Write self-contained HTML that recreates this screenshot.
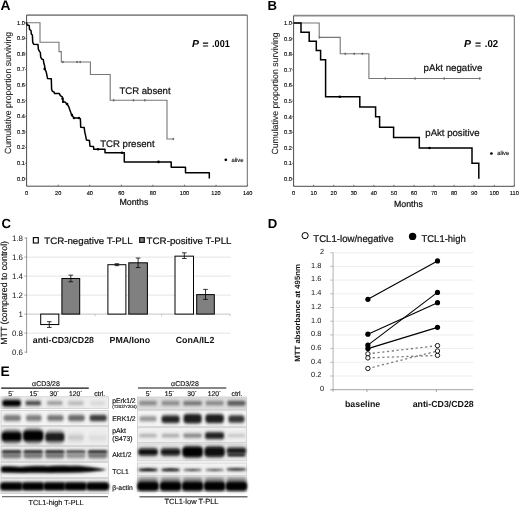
<!DOCTYPE html>
<html><head><meta charset="utf-8"><style>
html,body{margin:0;padding:0;background:#fff;}
svg{display:block;font-family:"Liberation Sans", sans-serif;will-change:transform;text-rendering:geometricPrecision;}
</style></head><body>
<svg width="520" height="515" viewBox="0 0 520 515">
<rect width="520" height="515" fill="#fff"/>
<text x="0.6" y="9.8" font-size="13.8" text-anchor="start" font-weight="bold" fill="#000" >A</text>
<text x="267.6" y="9.9" font-size="13.2" text-anchor="start" font-weight="bold" fill="#000" >B</text>
<text x="1.4" y="228.2" font-size="13.2" text-anchor="start" font-weight="bold" fill="#000" >C</text>
<text x="267.7" y="227.5" font-size="13.2" text-anchor="start" font-weight="bold" fill="#000" >D</text>
<text x="0.6" y="375.8" font-size="13.8" text-anchor="start" font-weight="bold" fill="#000" >E</text>
<line x1="26.6" y1="15.1" x2="247.3" y2="15.1" stroke="#8a8a8a" stroke-width="1.7"/>
<line x1="247.3" y1="15.1" x2="247.3" y2="186.2" stroke="#6a6a6a" stroke-width="1"/>
<line x1="26.6" y1="15.1" x2="26.6" y2="186.2" stroke="#4a4a4a" stroke-width="1"/>
<line x1="26.6" y1="186.2" x2="247.3" y2="186.2" stroke="#4a4a4a" stroke-width="1"/>
<line x1="25.1" y1="178.75" x2="26.6" y2="178.75" stroke="#555" stroke-width="0.8"/>
<text x="24.8" y="180.65" font-size="5.6" text-anchor="end" font-weight="normal" fill="#000" stroke="#000" stroke-width="0.12">0.0</text>
<line x1="25.1" y1="163.15" x2="26.6" y2="163.15" stroke="#555" stroke-width="0.8"/>
<text x="24.8" y="165.05" font-size="5.6" text-anchor="end" font-weight="normal" fill="#000" stroke="#000" stroke-width="0.12">0.1</text>
<line x1="25.1" y1="147.55" x2="26.6" y2="147.55" stroke="#555" stroke-width="0.8"/>
<text x="24.8" y="149.45000000000002" font-size="5.6" text-anchor="end" font-weight="normal" fill="#000" stroke="#000" stroke-width="0.12">0.2</text>
<line x1="25.1" y1="131.95" x2="26.6" y2="131.95" stroke="#555" stroke-width="0.8"/>
<text x="24.8" y="133.85" font-size="5.6" text-anchor="end" font-weight="normal" fill="#000" stroke="#000" stroke-width="0.12">0.3</text>
<line x1="25.1" y1="116.35" x2="26.6" y2="116.35" stroke="#555" stroke-width="0.8"/>
<text x="24.8" y="118.25" font-size="5.6" text-anchor="end" font-weight="normal" fill="#000" stroke="#000" stroke-width="0.12">0.4</text>
<line x1="25.1" y1="100.75" x2="26.6" y2="100.75" stroke="#555" stroke-width="0.8"/>
<text x="24.8" y="102.65" font-size="5.6" text-anchor="end" font-weight="normal" fill="#000" stroke="#000" stroke-width="0.12">0.5</text>
<line x1="25.1" y1="85.15" x2="26.6" y2="85.15" stroke="#555" stroke-width="0.8"/>
<text x="24.8" y="87.05000000000001" font-size="5.6" text-anchor="end" font-weight="normal" fill="#000" stroke="#000" stroke-width="0.12">0.6</text>
<line x1="25.1" y1="69.55000000000001" x2="26.6" y2="69.55000000000001" stroke="#555" stroke-width="0.8"/>
<text x="24.8" y="71.45000000000002" font-size="5.6" text-anchor="end" font-weight="normal" fill="#000" stroke="#000" stroke-width="0.12">0.7</text>
<line x1="25.1" y1="53.94999999999999" x2="26.6" y2="53.94999999999999" stroke="#555" stroke-width="0.8"/>
<text x="24.8" y="55.84999999999999" font-size="5.6" text-anchor="end" font-weight="normal" fill="#000" stroke="#000" stroke-width="0.12">0.8</text>
<line x1="25.1" y1="38.349999999999994" x2="26.6" y2="38.349999999999994" stroke="#555" stroke-width="0.8"/>
<text x="24.8" y="40.24999999999999" font-size="5.6" text-anchor="end" font-weight="normal" fill="#000" stroke="#000" stroke-width="0.12">0.9</text>
<line x1="25.1" y1="22.75" x2="26.6" y2="22.75" stroke="#555" stroke-width="0.8"/>
<text x="24.8" y="24.65" font-size="5.6" text-anchor="end" font-weight="normal" fill="#000" stroke="#000" stroke-width="0.12">1.0</text>
<line x1="26.6" y1="184.7" x2="26.6" y2="186.2" stroke="#555" stroke-width="0.8"/>
<text x="26.6" y="195.4" font-size="5.6" text-anchor="middle" font-weight="normal" fill="#000" stroke="#000" stroke-width="0.12">0</text>
<line x1="58.172" y1="184.7" x2="58.172" y2="186.2" stroke="#555" stroke-width="0.8"/>
<text x="58.172" y="195.4" font-size="5.6" text-anchor="middle" font-weight="normal" fill="#000" stroke="#000" stroke-width="0.12">20</text>
<line x1="89.744" y1="184.7" x2="89.744" y2="186.2" stroke="#555" stroke-width="0.8"/>
<text x="89.744" y="195.4" font-size="5.6" text-anchor="middle" font-weight="normal" fill="#000" stroke="#000" stroke-width="0.12">40</text>
<line x1="121.316" y1="184.7" x2="121.316" y2="186.2" stroke="#555" stroke-width="0.8"/>
<text x="121.316" y="195.4" font-size="5.6" text-anchor="middle" font-weight="normal" fill="#000" stroke="#000" stroke-width="0.12">60</text>
<line x1="152.888" y1="184.7" x2="152.888" y2="186.2" stroke="#555" stroke-width="0.8"/>
<text x="152.888" y="195.4" font-size="5.6" text-anchor="middle" font-weight="normal" fill="#000" stroke="#000" stroke-width="0.12">80</text>
<line x1="184.46" y1="184.7" x2="184.46" y2="186.2" stroke="#555" stroke-width="0.8"/>
<text x="184.46" y="195.4" font-size="5.6" text-anchor="middle" font-weight="normal" fill="#000" stroke="#000" stroke-width="0.12">100</text>
<line x1="216.03199999999998" y1="184.7" x2="216.03199999999998" y2="186.2" stroke="#555" stroke-width="0.8"/>
<text x="216.03199999999998" y="195.4" font-size="5.6" text-anchor="middle" font-weight="normal" fill="#000" stroke="#000" stroke-width="0.12">120</text>
<line x1="247.60399999999998" y1="184.7" x2="247.60399999999998" y2="186.2" stroke="#555" stroke-width="0.8"/>
<text x="247.60399999999998" y="195.4" font-size="5.6" text-anchor="middle" font-weight="normal" fill="#000" stroke="#000" stroke-width="0.12">140</text>
<text x="10.9" y="93.0" font-size="8.9" text-anchor="middle" fill="#1a1a1a" stroke="#1a1a1a" stroke-width="0.1" textLength="122.2" lengthAdjust="spacingAndGlyphs" transform="rotate(-90 10.9 93.0)">Cumulative proportion surviving</text>
<path d="M26.60,22.70 L40.00,22.70 L40.00,42.30 L59.00,42.30 L59.00,51.60 L61.30,51.60 L61.30,62.00 L90.40,62.00 L90.40,74.50 L110.20,74.50 L110.20,100.30 L167.00,100.30 L167.00,139.00 L173.30,139.00" fill="none" stroke="#777777" stroke-width="1.1"/>
<line x1="62.9" y1="60.8" x2="62.9" y2="63.2" stroke="#8a8a8a" stroke-width="0.8"/>
<circle cx="62.9" cy="62" r="0.95" fill="#6a6a6a"/>
<line x1="77.1" y1="60.8" x2="77.1" y2="63.2" stroke="#8a8a8a" stroke-width="0.8"/>
<circle cx="77.1" cy="62" r="0.95" fill="#6a6a6a"/>
<line x1="80.2" y1="60.8" x2="80.2" y2="63.2" stroke="#8a8a8a" stroke-width="0.8"/>
<circle cx="80.2" cy="62" r="0.95" fill="#6a6a6a"/>
<line x1="113.7" y1="99.1" x2="113.7" y2="101.5" stroke="#8a8a8a" stroke-width="0.8"/>
<circle cx="113.7" cy="100.3" r="0.95" fill="#6a6a6a"/>
<line x1="133.5" y1="99.1" x2="133.5" y2="101.5" stroke="#8a8a8a" stroke-width="0.8"/>
<circle cx="133.5" cy="100.3" r="0.95" fill="#6a6a6a"/>
<line x1="144.8" y1="99.1" x2="144.8" y2="101.5" stroke="#8a8a8a" stroke-width="0.8"/>
<circle cx="144.8" cy="100.3" r="0.95" fill="#6a6a6a"/>
<line x1="173.3" y1="137.8" x2="173.3" y2="140.2" stroke="#8a8a8a" stroke-width="0.8"/>
<circle cx="173.3" cy="139" r="0.95" fill="#6a6a6a"/>
<path d="M26.40,22.60 L27.20,25.00 L29.20,25.50 L29.50,29.30 L31.00,30.50 L31.30,34.00 L32.40,35.10 L32.70,42.10 L33.60,44.20 L38.00,44.50 L38.30,48.50 L38.30,49.10 L39.50,51.40 L40.40,52.60 L40.70,57.20 L41.80,59.00 L43.30,59.60 L43.90,63.60 L44.70,66.00 L44.70,68.90 L45.90,71.20 L46.30,72.30 L46.90,75.20 L47.50,78.40 L51.30,78.70 L51.60,89.20 L52.40,91.30 L54.20,92.10 L54.50,93.60 L59.40,93.60 L60.30,95.60 L62.30,96.80 L62.60,98.80 L63.20,101.70 L65.00,102.00 L67.00,104.00 L68.70,106.60 L69.60,109.30 L70.80,112.50 L71.90,115.10 L74.00,118.00 L78.90,118.00 L80.40,118.90 L80.70,127.30 L84.20,127.60 L84.70,131.60 L85.60,135.70 L86.50,140.10 L89.40,140.40 L90.00,146.20 L93.50,146.50 L93.80,149.30 L105.00,149.30 L105.00,152.70 L124.30,152.70 L124.30,161.90 L171.20,161.90 L171.20,167.20 L185.50,167.20 L185.50,172.80 L209.30,172.80 L209.30,178.40" fill="none" stroke="#000" stroke-width="1.5" stroke-linejoin="round"/>
<circle cx="44.7" cy="68.9" r="1.3" fill="#000"/>
<circle cx="62.6" cy="98.8" r="1.3" fill="#000"/>
<circle cx="63.2" cy="101.7" r="1.3" fill="#000"/>
<circle cx="67" cy="104" r="1.3" fill="#000"/>
<circle cx="71.9" cy="115.1" r="1.3" fill="#000"/>
<circle cx="74" cy="118" r="1.3" fill="#000"/>
<circle cx="78.9" cy="118" r="1.3" fill="#000"/>
<circle cx="98" cy="149.3" r="1.3" fill="#000"/>
<circle cx="122" cy="152.7" r="1.3" fill="#000"/>
<circle cx="158.5" cy="161.9" r="1.3" fill="#000"/>
<text x="191.9" y="47.2" font-size="10.2" text-anchor="start" font-weight="bold" fill="#000" textLength="7.0" lengthAdjust="spacingAndGlyphs"><tspan font-style="italic">P</tspan></text>
<text x="202.4" y="48.0" font-size="10.4" text-anchor="start" font-weight="bold" fill="#000" >=</text>
<text x="212.1" y="47.2" font-size="10" text-anchor="start" font-weight="bold" fill="#000" textLength="17.6" lengthAdjust="spacingAndGlyphs">.001</text>
<text x="119.4" y="93.8" font-size="9.6" text-anchor="start" font-weight="normal" fill="#111" stroke="#111" stroke-width="0.22">TCR absent</text>
<text x="100.2" y="146.5" font-size="9.6" text-anchor="start" font-weight="normal" fill="#111" stroke="#111" stroke-width="0.22">TCR present</text>
<circle cx="225.8" cy="159.8" r="1.35" fill="#000"/>
<text x="231.5" y="161.5" font-size="5.8" text-anchor="start" font-weight="normal" fill="#111" stroke="#111" stroke-width="0.15">alive</text>
<text x="119.5" y="204.7" font-size="8.8" text-anchor="start" font-weight="normal" fill="#111" stroke="#111" stroke-width="0.22">Months</text>
<line x1="293.6" y1="15.6" x2="514.3" y2="15.6" stroke="#8a8a8a" stroke-width="1.7"/>
<line x1="514.3" y1="15.6" x2="514.3" y2="186.3" stroke="#6a6a6a" stroke-width="1"/>
<line x1="293.6" y1="15.6" x2="293.6" y2="186.3" stroke="#4a4a4a" stroke-width="1"/>
<line x1="293.6" y1="186.3" x2="514.3" y2="186.3" stroke="#4a4a4a" stroke-width="1"/>
<line x1="292.1" y1="179.0" x2="293.6" y2="179.0" stroke="#555" stroke-width="0.8"/>
<text x="291.8" y="180.9" font-size="5.6" text-anchor="end" font-weight="normal" fill="#000" stroke="#000" stroke-width="0.12">0.0</text>
<line x1="292.1" y1="163.42" x2="293.6" y2="163.42" stroke="#555" stroke-width="0.8"/>
<text x="291.8" y="165.32" font-size="5.6" text-anchor="end" font-weight="normal" fill="#000" stroke="#000" stroke-width="0.12">0.1</text>
<line x1="292.1" y1="147.84" x2="293.6" y2="147.84" stroke="#555" stroke-width="0.8"/>
<text x="291.8" y="149.74" font-size="5.6" text-anchor="end" font-weight="normal" fill="#000" stroke="#000" stroke-width="0.12">0.2</text>
<line x1="292.1" y1="132.26" x2="293.6" y2="132.26" stroke="#555" stroke-width="0.8"/>
<text x="291.8" y="134.16" font-size="5.6" text-anchor="end" font-weight="normal" fill="#000" stroke="#000" stroke-width="0.12">0.3</text>
<line x1="292.1" y1="116.67999999999999" x2="293.6" y2="116.67999999999999" stroke="#555" stroke-width="0.8"/>
<text x="291.8" y="118.58" font-size="5.6" text-anchor="end" font-weight="normal" fill="#000" stroke="#000" stroke-width="0.12">0.4</text>
<line x1="292.1" y1="101.1" x2="293.6" y2="101.1" stroke="#555" stroke-width="0.8"/>
<text x="291.8" y="103.0" font-size="5.6" text-anchor="end" font-weight="normal" fill="#000" stroke="#000" stroke-width="0.12">0.5</text>
<line x1="292.1" y1="85.52" x2="293.6" y2="85.52" stroke="#555" stroke-width="0.8"/>
<text x="291.8" y="87.42" font-size="5.6" text-anchor="end" font-weight="normal" fill="#000" stroke="#000" stroke-width="0.12">0.6</text>
<line x1="292.1" y1="69.94" x2="293.6" y2="69.94" stroke="#555" stroke-width="0.8"/>
<text x="291.8" y="71.84" font-size="5.6" text-anchor="end" font-weight="normal" fill="#000" stroke="#000" stroke-width="0.12">0.7</text>
<line x1="292.1" y1="54.359999999999985" x2="293.6" y2="54.359999999999985" stroke="#555" stroke-width="0.8"/>
<text x="291.8" y="56.259999999999984" font-size="5.6" text-anchor="end" font-weight="normal" fill="#000" stroke="#000" stroke-width="0.12">0.8</text>
<line x1="292.1" y1="38.77999999999997" x2="293.6" y2="38.77999999999997" stroke="#555" stroke-width="0.8"/>
<text x="291.8" y="40.67999999999997" font-size="5.6" text-anchor="end" font-weight="normal" fill="#000" stroke="#000" stroke-width="0.12">0.9</text>
<line x1="292.1" y1="23.19999999999999" x2="293.6" y2="23.19999999999999" stroke="#555" stroke-width="0.8"/>
<text x="291.8" y="25.099999999999987" font-size="5.6" text-anchor="end" font-weight="normal" fill="#000" stroke="#000" stroke-width="0.12">1.0</text>
<line x1="293.6" y1="184.8" x2="293.6" y2="186.3" stroke="#555" stroke-width="0.8"/>
<text x="293.6" y="195.4" font-size="5.6" text-anchor="middle" font-weight="normal" fill="#000" stroke="#000" stroke-width="0.12">0</text>
<line x1="313.66400000000004" y1="184.8" x2="313.66400000000004" y2="186.3" stroke="#555" stroke-width="0.8"/>
<text x="313.66400000000004" y="195.4" font-size="5.6" text-anchor="middle" font-weight="normal" fill="#000" stroke="#000" stroke-width="0.12">10</text>
<line x1="333.728" y1="184.8" x2="333.728" y2="186.3" stroke="#555" stroke-width="0.8"/>
<text x="333.728" y="195.4" font-size="5.6" text-anchor="middle" font-weight="normal" fill="#000" stroke="#000" stroke-width="0.12">20</text>
<line x1="353.79200000000003" y1="184.8" x2="353.79200000000003" y2="186.3" stroke="#555" stroke-width="0.8"/>
<text x="353.79200000000003" y="195.4" font-size="5.6" text-anchor="middle" font-weight="normal" fill="#000" stroke="#000" stroke-width="0.12">30</text>
<line x1="373.856" y1="184.8" x2="373.856" y2="186.3" stroke="#555" stroke-width="0.8"/>
<text x="373.856" y="195.4" font-size="5.6" text-anchor="middle" font-weight="normal" fill="#000" stroke="#000" stroke-width="0.12">40</text>
<line x1="393.92" y1="184.8" x2="393.92" y2="186.3" stroke="#555" stroke-width="0.8"/>
<text x="393.92" y="195.4" font-size="5.6" text-anchor="middle" font-weight="normal" fill="#000" stroke="#000" stroke-width="0.12">50</text>
<line x1="413.98400000000004" y1="184.8" x2="413.98400000000004" y2="186.3" stroke="#555" stroke-width="0.8"/>
<text x="413.98400000000004" y="195.4" font-size="5.6" text-anchor="middle" font-weight="normal" fill="#000" stroke="#000" stroke-width="0.12">60</text>
<line x1="434.048" y1="184.8" x2="434.048" y2="186.3" stroke="#555" stroke-width="0.8"/>
<text x="434.048" y="195.4" font-size="5.6" text-anchor="middle" font-weight="normal" fill="#000" stroke="#000" stroke-width="0.12">70</text>
<line x1="454.112" y1="184.8" x2="454.112" y2="186.3" stroke="#555" stroke-width="0.8"/>
<text x="454.112" y="195.4" font-size="5.6" text-anchor="middle" font-weight="normal" fill="#000" stroke="#000" stroke-width="0.12">80</text>
<line x1="474.17600000000004" y1="184.8" x2="474.17600000000004" y2="186.3" stroke="#555" stroke-width="0.8"/>
<text x="474.17600000000004" y="195.4" font-size="5.6" text-anchor="middle" font-weight="normal" fill="#000" stroke="#000" stroke-width="0.12">90</text>
<line x1="494.24" y1="184.8" x2="494.24" y2="186.3" stroke="#555" stroke-width="0.8"/>
<text x="494.24" y="195.4" font-size="5.6" text-anchor="middle" font-weight="normal" fill="#000" stroke="#000" stroke-width="0.12">100</text>
<line x1="514.3040000000001" y1="184.8" x2="514.3040000000001" y2="186.3" stroke="#555" stroke-width="0.8"/>
<text x="514.3040000000001" y="195.4" font-size="5.6" text-anchor="middle" font-weight="normal" fill="#000" stroke="#000" stroke-width="0.12">110</text>
<text x="278.1" y="93.5" font-size="8.9" text-anchor="middle" fill="#1a1a1a" stroke="#1a1a1a" stroke-width="0.1" textLength="122.2" lengthAdjust="spacingAndGlyphs" transform="rotate(-90 278.1 93.5)">Cumulative proportion surviving</text>
<path d="M293.60,23.00 L319.20,23.00 L319.20,37.40 L340.20,37.40 L340.20,53.70 L368.90,53.70 L368.90,78.50 L479.70,78.50" fill="none" stroke="#777777" stroke-width="1.1"/>
<line x1="319.5" y1="36.199999999999996" x2="319.5" y2="38.6" stroke="#8a8a8a" stroke-width="0.8"/>
<circle cx="319.5" cy="37.4" r="0.95" fill="#6a6a6a"/>
<line x1="345.3" y1="52.5" x2="345.3" y2="54.900000000000006" stroke="#8a8a8a" stroke-width="0.8"/>
<circle cx="345.3" cy="53.7" r="0.95" fill="#6a6a6a"/>
<line x1="354.2" y1="52.5" x2="354.2" y2="54.900000000000006" stroke="#8a8a8a" stroke-width="0.8"/>
<circle cx="354.2" cy="53.7" r="0.95" fill="#6a6a6a"/>
<line x1="362.3" y1="52.5" x2="362.3" y2="54.900000000000006" stroke="#8a8a8a" stroke-width="0.8"/>
<circle cx="362.3" cy="53.7" r="0.95" fill="#6a6a6a"/>
<line x1="385.3" y1="77.3" x2="385.3" y2="79.7" stroke="#8a8a8a" stroke-width="0.8"/>
<circle cx="385.3" cy="78.5" r="0.95" fill="#6a6a6a"/>
<line x1="415.1" y1="77.3" x2="415.1" y2="79.7" stroke="#8a8a8a" stroke-width="0.8"/>
<circle cx="415.1" cy="78.5" r="0.95" fill="#6a6a6a"/>
<line x1="444.2" y1="77.3" x2="444.2" y2="79.7" stroke="#8a8a8a" stroke-width="0.8"/>
<circle cx="444.2" cy="78.5" r="0.95" fill="#6a6a6a"/>
<line x1="479.7" y1="77.3" x2="479.7" y2="79.7" stroke="#8a8a8a" stroke-width="0.8"/>
<circle cx="479.7" cy="78.5" r="0.95" fill="#6a6a6a"/>
<path d="M293.60,23.00 L301.00,23.00 L301.00,32.30 L309.20,32.30 L309.20,41.20 L316.30,41.20 L316.30,50.60 L320.60,50.60 L320.60,59.70 L325.60,59.70 L325.60,96.70 L359.80,96.70 L359.80,106.90 L375.60,106.90 L375.60,116.80 L379.60,116.80 L379.60,127.20 L393.60,127.20 L393.60,137.60 L419.30,137.60 L419.30,148.00 L472.00,148.00 L472.00,163.30 L478.80,163.30 L478.80,178.80" fill="none" stroke="#000" stroke-width="1.5"/>
<circle cx="339.7" cy="96.7" r="1.3" fill="#000"/>
<circle cx="429.5" cy="148.0" r="1.3" fill="#000"/>
<text x="464.1" y="47.1" font-size="10.2" text-anchor="start" font-weight="bold" fill="#000" textLength="7.0" lengthAdjust="spacingAndGlyphs"><tspan font-style="italic">P</tspan></text>
<text x="475.1" y="47.9" font-size="10.4" text-anchor="start" font-weight="bold" fill="#000" >=</text>
<text x="484.8" y="47.1" font-size="10" text-anchor="start" font-weight="bold" fill="#000" textLength="13.4" lengthAdjust="spacingAndGlyphs">.02</text>
<text x="423.6" y="71.1" font-size="9.7" text-anchor="start" font-weight="normal" fill="#111" stroke="#111" stroke-width="0.22">pAkt negative</text>
<text x="425.3" y="135.5" font-size="9.6" text-anchor="start" font-weight="normal" fill="#111" stroke="#111" stroke-width="0.22">pAkt positive</text>
<circle cx="491.4" cy="153.5" r="1.35" fill="#000"/>
<text x="497.2" y="155.2" font-size="5.8" text-anchor="start" font-weight="normal" fill="#111" stroke="#111" stroke-width="0.15">alive</text>
<text x="394.0" y="206.5" font-size="8.8" text-anchor="start" font-weight="normal" fill="#111" stroke="#111" stroke-width="0.22">Months</text>
<line x1="26.6" y1="257.10" x2="230.5" y2="257.10" stroke="#d8d8d8" stroke-width="0.7"/>
<line x1="26.6" y1="276.10" x2="230.5" y2="276.10" stroke="#d8d8d8" stroke-width="0.7"/>
<line x1="26.6" y1="295.10" x2="230.5" y2="295.10" stroke="#d8d8d8" stroke-width="0.7"/>
<line x1="26.6" y1="333.10" x2="230.5" y2="333.10" stroke="#d8d8d8" stroke-width="0.7"/>
<line x1="26.6" y1="314.10" x2="230.5" y2="314.10" stroke="#bdbdbd" stroke-width="0.9"/>
<line x1="26.6" y1="237.10000000000002" x2="26.6" y2="353.1" stroke="#8c8c8c" stroke-width="0.9"/>
<line x1="24.4" y1="238.10" x2="26.6" y2="238.10" stroke="#8c8c8c" stroke-width="0.8"/>
<text x="23.0" y="240.90000000000003" font-size="7.9" text-anchor="end" font-weight="normal" fill="#111" >1.8</text>
<line x1="24.4" y1="257.10" x2="26.6" y2="257.10" stroke="#8c8c8c" stroke-width="0.8"/>
<text x="23.0" y="259.90000000000003" font-size="7.9" text-anchor="end" font-weight="normal" fill="#111" >1.6</text>
<line x1="24.4" y1="276.10" x2="26.6" y2="276.10" stroke="#8c8c8c" stroke-width="0.8"/>
<text x="23.0" y="278.90000000000003" font-size="7.9" text-anchor="end" font-weight="normal" fill="#111" >1.4</text>
<line x1="24.4" y1="295.10" x2="26.6" y2="295.10" stroke="#8c8c8c" stroke-width="0.8"/>
<text x="23.0" y="297.90000000000003" font-size="7.9" text-anchor="end" font-weight="normal" fill="#111" >1.2</text>
<line x1="24.4" y1="314.10" x2="26.6" y2="314.10" stroke="#8c8c8c" stroke-width="0.8"/>
<text x="23.0" y="316.90000000000003" font-size="7.9" text-anchor="end" font-weight="normal" fill="#111" >1</text>
<line x1="24.4" y1="333.10" x2="26.6" y2="333.10" stroke="#8c8c8c" stroke-width="0.8"/>
<text x="23.0" y="335.90000000000003" font-size="7.9" text-anchor="end" font-weight="normal" fill="#111" >0.8</text>
<line x1="24.4" y1="352.10" x2="26.6" y2="352.10" stroke="#8c8c8c" stroke-width="0.8"/>
<text x="23.0" y="354.90000000000003" font-size="7.9" text-anchor="end" font-weight="normal" fill="#111" >0.6</text>
<line x1="95.0" y1="314.1" x2="95.0" y2="316.3" stroke="#bdbdbd" stroke-width="0.8"/>
<line x1="161.6" y1="314.1" x2="161.6" y2="316.3" stroke="#bdbdbd" stroke-width="0.8"/>
<line x1="230.0" y1="314.1" x2="230.0" y2="316.3" stroke="#bdbdbd" stroke-width="0.8"/>
<rect x="40.70" y="314.10" width="18.10" height="10.45" fill="#fff" stroke="#000" stroke-width="1"/>
<line x1="49.3" y1="327.40" x2="49.3" y2="321.70" stroke="#000" stroke-width="0.8"/>
<line x1="47.0" y1="327.40" x2="51.599999999999994" y2="327.40" stroke="#000" stroke-width="0.8"/>
<line x1="47.0" y1="321.70" x2="51.599999999999994" y2="321.70" stroke="#000" stroke-width="0.8"/>
<rect x="61.90" y="278.48" width="17.80" height="35.62" fill="#808080" stroke="#000" stroke-width="1"/>
<line x1="70.8" y1="281.80" x2="70.8" y2="275.15" stroke="#000" stroke-width="0.8"/>
<line x1="68.5" y1="281.80" x2="73.1" y2="281.80" stroke="#000" stroke-width="0.8"/>
<line x1="68.5" y1="275.15" x2="73.1" y2="275.15" stroke="#000" stroke-width="0.8"/>
<rect x="107.90" y="264.70" width="18.00" height="49.40" fill="#fff" stroke="#000" stroke-width="1"/>
<line x1="116.9" y1="265.65" x2="116.9" y2="263.75" stroke="#000" stroke-width="0.8"/>
<line x1="114.60000000000001" y1="265.65" x2="119.2" y2="265.65" stroke="#000" stroke-width="0.8"/>
<line x1="114.60000000000001" y1="263.75" x2="119.2" y2="263.75" stroke="#000" stroke-width="0.8"/>
<rect x="128.80" y="262.80" width="18.60" height="51.30" fill="#808080" stroke="#000" stroke-width="1"/>
<line x1="138.1" y1="267.55" x2="138.1" y2="258.05" stroke="#000" stroke-width="0.8"/>
<line x1="135.79999999999998" y1="267.55" x2="140.4" y2="267.55" stroke="#000" stroke-width="0.8"/>
<line x1="135.79999999999998" y1="258.05" x2="140.4" y2="258.05" stroke="#000" stroke-width="0.8"/>
<rect x="175.00" y="256.15" width="18.50" height="57.95" fill="#fff" stroke="#000" stroke-width="1"/>
<line x1="184.3" y1="258.53" x2="184.3" y2="252.83" stroke="#000" stroke-width="0.8"/>
<line x1="182.0" y1="258.53" x2="186.60000000000002" y2="258.53" stroke="#000" stroke-width="0.8"/>
<line x1="182.0" y1="252.83" x2="186.60000000000002" y2="252.83" stroke="#000" stroke-width="0.8"/>
<rect x="196.70" y="294.62" width="17.60" height="19.48" fill="#808080" stroke="#000" stroke-width="1"/>
<line x1="205.5" y1="299.38" x2="205.5" y2="289.40" stroke="#000" stroke-width="0.8"/>
<line x1="203.2" y1="299.38" x2="207.8" y2="299.38" stroke="#000" stroke-width="0.8"/>
<line x1="203.2" y1="289.40" x2="207.8" y2="289.40" stroke="#000" stroke-width="0.8"/>
<rect x="33.4" y="237.6" width="4.9" height="5.4" fill="#fff" stroke="#111" stroke-width="1.2"/>
<text x="44.3" y="243.8" font-size="9.3" text-anchor="start" font-weight="normal" fill="#111" textLength="88.3" lengthAdjust="spacingAndGlyphs" stroke="#111" stroke-width="0.22">TCR-negative T-PLL</text>
<rect x="139.7" y="237.6" width="4.6" height="4.8" fill="#808080" stroke="#111" stroke-width="1.2"/>
<text x="146.6" y="243.8" font-size="9.3" text-anchor="start" font-weight="normal" fill="#111" textLength="84.9" lengthAdjust="spacingAndGlyphs" stroke="#111" stroke-width="0.22">TCR-positive T-PLL</text>
<text x="63.4" y="343.0" font-size="8.8" text-anchor="middle" font-weight="bold" fill="#111" >anti-CD3/CD28</text>
<text x="129.8" y="343.0" font-size="8.8" text-anchor="middle" font-weight="bold" fill="#111" >PMA/Iono</text>
<text x="195.0" y="343.0" font-size="8.8" text-anchor="middle" font-weight="bold" fill="#111" >ConA/IL2</text>
<text x="6.7" y="292.9" font-size="8.9" text-anchor="middle" fill="#111" stroke="#111" stroke-width="0.15" textLength="103.8" lengthAdjust="spacingAndGlyphs" transform="rotate(-90 6.7 292.9)">MTT (compared to control)</text>
<line x1="333.4" y1="376.00" x2="473.4" y2="376.00" stroke="#e8e8e8" stroke-width="0.8"/>
<line x1="333.4" y1="362.30" x2="473.4" y2="362.30" stroke="#e8e8e8" stroke-width="0.8"/>
<line x1="333.4" y1="348.60" x2="473.4" y2="348.60" stroke="#e8e8e8" stroke-width="0.8"/>
<line x1="333.4" y1="334.90" x2="473.4" y2="334.90" stroke="#e8e8e8" stroke-width="0.8"/>
<line x1="333.4" y1="321.20" x2="473.4" y2="321.20" stroke="#e8e8e8" stroke-width="0.8"/>
<line x1="333.4" y1="307.50" x2="473.4" y2="307.50" stroke="#e8e8e8" stroke-width="0.8"/>
<line x1="333.4" y1="293.80" x2="473.4" y2="293.80" stroke="#e8e8e8" stroke-width="0.8"/>
<line x1="333.4" y1="280.10" x2="473.4" y2="280.10" stroke="#e8e8e8" stroke-width="0.8"/>
<line x1="333.4" y1="266.40" x2="473.4" y2="266.40" stroke="#e8e8e8" stroke-width="0.8"/>
<line x1="333.4" y1="252.70" x2="473.4" y2="252.70" stroke="#e8e8e8" stroke-width="0.8"/>
<line x1="333.1" y1="252.7" x2="333.1" y2="391.9" stroke="#a8a8a8" stroke-width="0.9"/>
<line x1="330.5" y1="389.7" x2="473.4" y2="389.7" stroke="#9a9a9a" stroke-width="0.9"/>
<line x1="330.4" y1="389.70" x2="333.1" y2="389.70" stroke="#a8a8a8" stroke-width="0.8"/>
<text x="324.2" y="391.0" font-size="7.4" text-anchor="end" font-weight="normal" fill="#111" >0</text>
<line x1="330.4" y1="376.00" x2="333.1" y2="376.00" stroke="#a8a8a8" stroke-width="0.8"/>
<text x="321.4" y="377.3" font-size="7.4" text-anchor="end" font-weight="normal" fill="#111" >0.2</text>
<line x1="330.4" y1="362.30" x2="333.1" y2="362.30" stroke="#a8a8a8" stroke-width="0.8"/>
<text x="321.4" y="363.6" font-size="7.4" text-anchor="end" font-weight="normal" fill="#111" >0.4</text>
<line x1="330.4" y1="348.60" x2="333.1" y2="348.60" stroke="#a8a8a8" stroke-width="0.8"/>
<text x="321.4" y="349.9" font-size="7.4" text-anchor="end" font-weight="normal" fill="#111" >0.6</text>
<line x1="330.4" y1="334.90" x2="333.1" y2="334.90" stroke="#a8a8a8" stroke-width="0.8"/>
<text x="321.4" y="336.2" font-size="7.4" text-anchor="end" font-weight="normal" fill="#111" >0.8</text>
<line x1="330.4" y1="321.20" x2="333.1" y2="321.20" stroke="#a8a8a8" stroke-width="0.8"/>
<text x="321.4" y="322.5" font-size="7.4" text-anchor="end" font-weight="normal" fill="#111" >1.0</text>
<line x1="330.4" y1="307.50" x2="333.1" y2="307.50" stroke="#a8a8a8" stroke-width="0.8"/>
<text x="321.4" y="308.8" font-size="7.4" text-anchor="end" font-weight="normal" fill="#111" >1.2</text>
<line x1="330.4" y1="293.80" x2="333.1" y2="293.80" stroke="#a8a8a8" stroke-width="0.8"/>
<text x="321.4" y="295.09999999999997" font-size="7.4" text-anchor="end" font-weight="normal" fill="#111" >1.4</text>
<line x1="330.4" y1="280.10" x2="333.1" y2="280.10" stroke="#a8a8a8" stroke-width="0.8"/>
<text x="321.4" y="281.4" font-size="7.4" text-anchor="end" font-weight="normal" fill="#111" >1.6</text>
<line x1="330.4" y1="266.40" x2="333.1" y2="266.40" stroke="#a8a8a8" stroke-width="0.8"/>
<text x="321.4" y="267.7" font-size="7.4" text-anchor="end" font-weight="normal" fill="#111" >1.8</text>
<line x1="330.4" y1="252.70" x2="333.1" y2="252.70" stroke="#a8a8a8" stroke-width="0.8"/>
<text x="324.2" y="254.0" font-size="7.4" text-anchor="end" font-weight="normal" fill="#111" >2</text>
<line x1="366.9" y1="389.7" x2="366.9" y2="392.09999999999997" stroke="#8c8c8c" stroke-width="0.8"/>
<line x1="436.3" y1="389.7" x2="436.3" y2="392.09999999999997" stroke="#8c8c8c" stroke-width="0.8"/>
<line x1="367.9" y1="299.28" x2="437.5" y2="260.92" stroke="#000" stroke-width="1.1"/>
<line x1="367.9" y1="334.21" x2="437.5" y2="302.70" stroke="#000" stroke-width="1.1"/>
<line x1="367.9" y1="345.18" x2="437.5" y2="292.43" stroke="#000" stroke-width="1.1"/>
<line x1="367.9" y1="348.60" x2="437.5" y2="327.37" stroke="#000" stroke-width="1.1"/>
<line x1="367.9" y1="353.8" x2="437.5" y2="345.6" stroke="#7c7c7c" stroke-width="1.3" stroke-dasharray="2.2,2.6"/>
<line x1="367.9" y1="357.9" x2="437.5" y2="355.4" stroke="#7c7c7c" stroke-width="1.3" stroke-dasharray="2.2,2.6"/>
<line x1="367.9" y1="368.5" x2="437.5" y2="351.0" stroke="#7c7c7c" stroke-width="1.3" stroke-dasharray="2.2,2.6"/>
<circle cx="367.9" cy="299.28" r="2.6" fill="#000"/>
<circle cx="437.5" cy="260.92" r="2.6" fill="#000"/>
<circle cx="367.9" cy="334.21" r="2.6" fill="#000"/>
<circle cx="437.5" cy="302.70" r="2.6" fill="#000"/>
<circle cx="367.9" cy="345.18" r="2.6" fill="#000"/>
<circle cx="437.5" cy="292.43" r="2.6" fill="#000"/>
<circle cx="367.9" cy="348.60" r="2.6" fill="#000"/>
<circle cx="437.5" cy="327.37" r="2.6" fill="#000"/>
<circle cx="367.9" cy="353.8" r="2.2" fill="#fff" stroke="#000" stroke-width="0.9"/>
<circle cx="437.5" cy="345.6" r="2.2" fill="#fff" stroke="#000" stroke-width="0.9"/>
<circle cx="367.9" cy="357.9" r="2.2" fill="#fff" stroke="#000" stroke-width="0.9"/>
<circle cx="437.5" cy="355.4" r="2.2" fill="#fff" stroke="#000" stroke-width="0.9"/>
<circle cx="367.9" cy="368.5" r="2.2" fill="#fff" stroke="#000" stroke-width="0.9"/>
<circle cx="437.5" cy="351.0" r="2.2" fill="#fff" stroke="#000" stroke-width="0.9"/>
<circle cx="305.1" cy="235.6" r="3.1" fill="#fff" stroke="#000" stroke-width="1.0"/>
<text x="313.3" y="241.7" font-size="9.8" text-anchor="start" font-weight="normal" fill="#111" textLength="80.2" lengthAdjust="spacingAndGlyphs" stroke="#111" stroke-width="0.22">TCL1-low/negative</text>
<circle cx="412.6" cy="236.4" r="3.7" fill="#000"/>
<text x="421.5" y="241.7" font-size="9.8" text-anchor="start" font-weight="normal" fill="#111" textLength="44.2" lengthAdjust="spacingAndGlyphs" stroke="#111" stroke-width="0.22">TCL1-high</text>
<text x="362.6" y="406.6" font-size="8.8" text-anchor="middle" font-weight="bold" fill="#111" >baseline</text>
<text x="443.2" y="407.2" font-size="8.8" text-anchor="middle" font-weight="bold" fill="#111" >anti-CD3/CD28</text>
<text x="300.4" y="312.9" font-size="7.6" font-weight="bold" text-anchor="middle" fill="#111" textLength="97.7" lengthAdjust="spacingAndGlyphs" transform="rotate(-90 300.4 312.9)">MTT absorbance at 495nm</text>
<defs><filter id="bl" x="-30%" y="-80%" width="160%" height="260%"><feGaussianBlur stdDeviation="1.2"/></filter><filter id="bl2" x="-30%" y="-80%" width="160%" height="260%"><feGaussianBlur stdDeviation="0.8"/></filter><filter id="bl3" x="-30%" y="-80%" width="160%" height="260%"><feGaussianBlur stdDeviation="1.7"/></filter></defs>
<rect x="1.0" y="396.8" width="107.4" height="11.800000000000011" fill="#eeeeee" stroke="#cdcdcd" stroke-width="0.8"/>
<rect x="2.00" y="398.20" width="19.20" height="9.80" rx="3.43" fill="#8a8a8a" filter="url(#bl3)"/>
<rect x="2.80" y="400.40" width="17.60" height="5.40" rx="1.89" fill="#000" filter="url(#bl)"/>
<rect x="25.00" y="399.10" width="16.40" height="8.00" rx="2.80" fill="#c0c0c0" filter="url(#bl3)"/>
<rect x="25.80" y="401.30" width="14.80" height="3.60" rx="1.26" fill="#505050" filter="url(#bl)"/>
<rect x="46.60" y="399.40" width="16.40" height="7.40" rx="2.59" fill="#d6d6d6" filter="url(#bl3)"/>
<rect x="47.40" y="401.60" width="14.80" height="3.00" rx="1.05" fill="#9a9a9a" filter="url(#bl)"/>
<rect x="67.60" y="399.50" width="16.40" height="7.20" rx="2.52" fill="#dcdcdc" filter="url(#bl3)"/>
<rect x="68.40" y="401.70" width="14.80" height="2.80" rx="0.98" fill="#b6b6b6" filter="url(#bl)"/>
<rect x="89.80" y="399.60" width="15.60" height="7.00" rx="2.45" fill="#e6e6e6" filter="url(#bl3)"/>
<rect x="90.60" y="401.80" width="14.00" height="2.60" rx="0.91" fill="#d8d8d8" filter="url(#bl)"/>
<rect x="1.0" y="410.6" width="107.4" height="15.0" fill="#f4f4f4" stroke="#cdcdcd" stroke-width="0.8"/>
<rect x="3.40" y="414.00" width="17.60" height="8.00" rx="2.80" fill="#bcbcbc" filter="url(#bl3)"/>
<rect x="4.20" y="415.80" width="16.00" height="4.40" rx="1.54" fill="#7a7a7a" filter="url(#bl)"/>
<rect x="25.80" y="414.00" width="16.00" height="8.00" rx="2.80" fill="#bcbcbc" filter="url(#bl3)"/>
<rect x="26.60" y="415.80" width="14.40" height="4.40" rx="1.54" fill="#7e7e7e" filter="url(#bl)"/>
<rect x="47.00" y="414.00" width="16.80" height="8.00" rx="2.80" fill="#bcbcbc" filter="url(#bl3)"/>
<rect x="47.80" y="415.80" width="15.20" height="4.40" rx="1.54" fill="#767676" filter="url(#bl)"/>
<rect x="67.80" y="413.80" width="17.20" height="8.40" rx="2.94" fill="#bcbcbc" filter="url(#bl3)"/>
<rect x="68.60" y="415.60" width="15.60" height="4.80" rx="1.68" fill="#6a6a6a" filter="url(#bl)"/>
<rect x="89.20" y="413.40" width="18.00" height="9.20" rx="3.22" fill="#bcbcbc" filter="url(#bl3)"/>
<rect x="90.00" y="415.20" width="16.40" height="5.60" rx="1.96" fill="#3c3c3c" filter="url(#bl)"/>
<rect x="1.0" y="426.4" width="107.4" height="19.0" fill="#eeeeee" stroke="#cdcdcd" stroke-width="0.8"/>
<rect x="1.40" y="429.60" width="20.40" height="14.00" rx="4.90" fill="#6a6a6a" filter="url(#bl3)"/>
<rect x="2.00" y="432.60" width="19.20" height="8.00" rx="2.80" fill="#000" filter="url(#bl)"/>
<rect x="22.80" y="428.20" width="20.80" height="15.20" rx="5.32" fill="#6a6a6a" filter="url(#bl3)"/>
<rect x="23.40" y="431.20" width="19.60" height="9.20" rx="3.22" fill="#000" filter="url(#bl)"/>
<rect x="45.00" y="430.20" width="19.60" height="13.60" rx="4.76" fill="#8a8a8a" filter="url(#bl3)"/>
<rect x="45.60" y="433.20" width="18.40" height="7.60" rx="2.66" fill="#1a1a1a" filter="url(#bl)"/>
<rect x="67.60" y="432.20" width="16.40" height="10.80" rx="3.78" fill="#e0e0e0" filter="url(#bl3)"/>
<rect x="68.20" y="435.20" width="15.20" height="4.80" rx="1.68" fill="#cacaca" filter="url(#bl)"/>
<rect x="88.40" y="432.40" width="18.40" height="10.80" rx="3.78" fill="#e8e8e8" filter="url(#bl3)"/>
<rect x="89.00" y="435.40" width="17.20" height="4.80" rx="1.68" fill="#dedede" filter="url(#bl)"/>
<rect x="1.0" y="446.4" width="107.4" height="15.200000000000045" fill="#eaeaea" stroke="#cdcdcd" stroke-width="0.8"/>
<rect x="2.00" y="450.40" width="19.20" height="8.40" rx="2.94" fill="#9a9a9a" filter="url(#bl3)"/>
<rect x="2.00" y="450.60" width="19.20" height="2.20" rx="0.77" fill="#141414" filter="url(#bl2)"/>
<rect x="2.60" y="454.40" width="18.00" height="2.40" rx="0.84" fill="#6a6a6a" filter="url(#bl)"/>
<rect x="23.60" y="450.40" width="19.20" height="8.40" rx="2.94" fill="#9a9a9a" filter="url(#bl3)"/>
<rect x="23.60" y="450.60" width="19.20" height="2.20" rx="0.77" fill="#141414" filter="url(#bl2)"/>
<rect x="24.20" y="454.40" width="18.00" height="2.40" rx="0.84" fill="#6a6a6a" filter="url(#bl)"/>
<rect x="45.20" y="450.40" width="19.20" height="8.40" rx="2.94" fill="#9a9a9a" filter="url(#bl3)"/>
<rect x="45.20" y="450.60" width="19.20" height="2.20" rx="0.77" fill="#141414" filter="url(#bl2)"/>
<rect x="45.80" y="454.40" width="18.00" height="2.40" rx="0.84" fill="#6a6a6a" filter="url(#bl)"/>
<rect x="66.20" y="450.40" width="19.20" height="8.40" rx="2.94" fill="#b0b0b0" filter="url(#bl3)"/>
<rect x="66.20" y="450.60" width="19.20" height="2.20" rx="0.77" fill="#3a3a3a" filter="url(#bl2)"/>
<rect x="66.80" y="454.40" width="18.00" height="2.40" rx="0.84" fill="#888" filter="url(#bl)"/>
<rect x="88.00" y="450.40" width="19.20" height="8.40" rx="2.94" fill="#9a9a9a" filter="url(#bl3)"/>
<rect x="88.00" y="450.60" width="19.20" height="2.20" rx="0.77" fill="#141414" filter="url(#bl2)"/>
<rect x="88.60" y="454.40" width="18.00" height="2.40" rx="0.84" fill="#6a6a6a" filter="url(#bl)"/>
<rect x="1.0" y="462.6" width="107.4" height="15.0" fill="#f4f4f4" stroke="#cdcdcd" stroke-width="0.8"/>
<path d="M1.5,466.0 C10,465.4 18,466.6 22,466.4 C30,465.2 40,465.2 48,465.8 C55,465.0 62,465.0 70,465.4 C78,465.0 84,465.8 90,466.8 C96,467.8 102,468.8 107,469.6 C102,470.6 96,471.4 90,472.0 C82,472.8 74,473.2 66,473.2 C56,473.4 46,473.4 36,473.2 C26,473.4 14,473.4 1.5,473.0 Z" fill="#6a6a6a" filter="url(#bl3)"/>
<path d="M1.5,467.2 C10,466.8 18,467.8 22,467.6 C30,466.6 40,466.6 48,467.0 C55,466.4 62,466.4 70,466.8 C78,466.4 84,467.0 90,467.8 C96,468.6 102,469.2 106,469.8 C102,470.4 96,470.8 90,471.2 C82,471.8 74,472.0 66,472.0 C56,472.2 46,472.2 36,472.0 C26,472.2 14,472.2 1.5,471.8 Z" fill="#000" filter="url(#bl2)"/>
<rect x="1.0" y="478.6" width="107.4" height="15.0" fill="#f0f0f0" stroke="#cdcdcd" stroke-width="0.8"/>
<rect x="0.40" y="481.80" width="22.40" height="9.00" rx="3.15" fill="#4a4a4a" filter="url(#bl3)"/>
<rect x="0.70" y="483.20" width="21.80" height="6.20" rx="2.17" fill="#000" filter="url(#bl)"/>
<rect x="22.00" y="481.80" width="22.40" height="9.00" rx="3.15" fill="#4a4a4a" filter="url(#bl3)"/>
<rect x="22.30" y="483.20" width="21.80" height="6.20" rx="2.17" fill="#000" filter="url(#bl)"/>
<rect x="43.60" y="481.80" width="22.40" height="9.00" rx="3.15" fill="#4a4a4a" filter="url(#bl3)"/>
<rect x="43.90" y="483.20" width="21.80" height="6.20" rx="2.17" fill="#000" filter="url(#bl)"/>
<rect x="64.60" y="481.80" width="22.40" height="9.00" rx="3.15" fill="#4a4a4a" filter="url(#bl3)"/>
<rect x="64.90" y="483.20" width="21.80" height="6.20" rx="2.17" fill="#000" filter="url(#bl)"/>
<rect x="86.40" y="481.80" width="22.40" height="9.00" rx="3.15" fill="#4a4a4a" filter="url(#bl3)"/>
<rect x="86.70" y="483.20" width="21.80" height="6.20" rx="2.17" fill="#000" filter="url(#bl)"/>
<rect x="137.4" y="397.0" width="109.19999999999999" height="12.600000000000023" fill="#dedede" stroke="#cdcdcd" stroke-width="0.8"/>
<rect x="138.80" y="399.80" width="18.40" height="6.80" rx="2.38" fill="#bdbdbd" filter="url(#bl3)"/>
<rect x="139.60" y="401.60" width="16.80" height="3.20" rx="1.12" fill="#888" filter="url(#bl)"/>
<rect x="161.20" y="399.80" width="18.80" height="6.80" rx="2.38" fill="#bdbdbd" filter="url(#bl3)"/>
<rect x="162.00" y="401.60" width="17.20" height="3.20" rx="1.12" fill="#8a8a8a" filter="url(#bl)"/>
<rect x="182.80" y="399.60" width="19.60" height="7.20" rx="2.52" fill="#bdbdbd" filter="url(#bl3)"/>
<rect x="183.60" y="401.40" width="18.00" height="3.60" rx="1.26" fill="#777" filter="url(#bl)"/>
<rect x="205.20" y="399.80" width="18.80" height="6.80" rx="2.38" fill="#bdbdbd" filter="url(#bl3)"/>
<rect x="206.00" y="401.60" width="17.20" height="3.20" rx="1.12" fill="#888" filter="url(#bl)"/>
<rect x="226.80" y="399.20" width="19.20" height="8.00" rx="2.80" fill="#bdbdbd" filter="url(#bl3)"/>
<rect x="227.60" y="401.00" width="17.60" height="4.40" rx="1.54" fill="#5e5e5e" filter="url(#bl)"/>
<rect x="137.4" y="410.7" width="109.19999999999999" height="15.600000000000023" fill="#f6f6f6" stroke="#cdcdcd" stroke-width="0.8"/>
<rect x="139.20" y="415.00" width="17.60" height="7.60" rx="2.66" fill="#cfcfcf" filter="url(#bl3)"/>
<rect x="140.00" y="416.80" width="16.00" height="4.00" rx="1.40" fill="#989898" filter="url(#bl)"/>
<rect x="161.40" y="414.60" width="18.40" height="9.20" rx="3.22" fill="#7a7a7a" filter="url(#bl3)"/>
<rect x="162.20" y="416.40" width="16.80" height="5.60" rx="1.96" fill="#222" filter="url(#bl)"/>
<rect x="183.40" y="413.20" width="18.40" height="10.80" rx="3.78" fill="#707070" filter="url(#bl3)"/>
<rect x="184.20" y="415.00" width="16.80" height="7.20" rx="2.52" fill="#1a1a1a" filter="url(#bl)"/>
<rect x="205.20" y="413.40" width="18.80" height="10.40" rx="3.64" fill="#707070" filter="url(#bl3)"/>
<rect x="206.00" y="415.20" width="17.20" height="6.80" rx="2.38" fill="#1a1a1a" filter="url(#bl)"/>
<rect x="228.20" y="414.40" width="16.40" height="9.20" rx="3.22" fill="#8a8a8a" filter="url(#bl3)"/>
<rect x="229.00" y="416.20" width="14.80" height="5.60" rx="1.96" fill="#363636" filter="url(#bl)"/>
<rect x="137.4" y="427.4" width="109.19999999999999" height="15.200000000000045" fill="#f0f0f0" stroke="#cdcdcd" stroke-width="0.8"/>
<rect x="138.80" y="432.70" width="18.40" height="5.80" rx="2.03" fill="#dadada" filter="url(#bl3)"/>
<rect x="139.60" y="434.50" width="16.80" height="2.20" rx="0.77" fill="#acacac" filter="url(#bl)"/>
<rect x="161.40" y="432.50" width="18.40" height="6.20" rx="2.17" fill="#dadada" filter="url(#bl3)"/>
<rect x="162.20" y="434.30" width="16.80" height="2.60" rx="0.91" fill="#acacac" filter="url(#bl)"/>
<rect x="183.00" y="432.20" width="19.20" height="6.80" rx="2.38" fill="#c8c8c8" filter="url(#bl3)"/>
<rect x="183.80" y="434.00" width="17.60" height="3.20" rx="1.12" fill="#8a8a8a" filter="url(#bl)"/>
<rect x="204.80" y="431.20" width="19.60" height="8.80" rx="3.08" fill="#8a8a8a" filter="url(#bl3)"/>
<rect x="205.60" y="433.00" width="18.00" height="5.20" rx="1.82" fill="#202020" filter="url(#bl)"/>
<rect x="227.20" y="432.60" width="18.40" height="6.00" rx="2.10" fill="#e2e2e2" filter="url(#bl3)"/>
<rect x="228.00" y="434.40" width="16.80" height="2.40" rx="0.84" fill="#c4c4c4" filter="url(#bl)"/>
<rect x="137.4" y="443.8" width="109.19999999999999" height="17.099999999999966" fill="#e8e8e8" stroke="#cdcdcd" stroke-width="0.8"/>
<rect x="138.20" y="447.50" width="19.60" height="9.00" rx="3.15" fill="#6a6a6a" filter="url(#bl3)"/>
<rect x="138.80" y="449.50" width="18.40" height="5.00" rx="1.75" fill="#101010" filter="url(#bl)"/>
<rect x="160.80" y="447.50" width="19.60" height="9.00" rx="3.15" fill="#6a6a6a" filter="url(#bl3)"/>
<rect x="161.40" y="449.50" width="18.40" height="5.00" rx="1.75" fill="#121212" filter="url(#bl)"/>
<rect x="182.20" y="445.40" width="20.80" height="12.80" rx="4.48" fill="#5a5a5a" filter="url(#bl3)"/>
<rect x="182.80" y="447.40" width="19.60" height="8.80" rx="3.08" fill="#050505" filter="url(#bl)"/>
<rect x="204.40" y="445.80" width="20.40" height="12.00" rx="4.20" fill="#5a5a5a" filter="url(#bl3)"/>
<rect x="205.00" y="447.80" width="19.20" height="8.00" rx="2.80" fill="#0c0c0c" filter="url(#bl)"/>
<rect x="226.80" y="446.80" width="19.20" height="8.00" rx="2.80" fill="#6a6a6a" filter="url(#bl3)"/>
<rect x="227.40" y="448.80" width="18.00" height="4.00" rx="1.40" fill="#161616" filter="url(#bl)"/>
<rect x="227.60" y="453.40" width="17.60" height="3.20" rx="1.12" fill="#222" filter="url(#bl)"/>
<rect x="137.4" y="463.0" width="109.19999999999999" height="12.800000000000011" fill="#f2f2f2" stroke="#cdcdcd" stroke-width="0.8"/>
<rect x="137.70" y="467.10" width="20.60" height="5.40" rx="1.89" fill="#c0c0c0" filter="url(#bl3)"/>
<ellipse cx="148.0" cy="469.8" rx="9.8" ry="1.3" fill="#000" filter="url(#bl2)"/>
<rect x="160.70" y="467.20" width="19.80" height="5.20" rx="1.82" fill="#c4c4c4" filter="url(#bl3)"/>
<ellipse cx="170.6" cy="469.8" rx="9.4" ry="1.2" fill="#080808" filter="url(#bl2)"/>
<rect x="183.10" y="467.50" width="19.00" height="4.80" rx="1.68" fill="#d8d8d8" filter="url(#bl3)"/>
<ellipse cx="192.6" cy="469.9" rx="9.0" ry="1.0" fill="#3c3c3c" filter="url(#bl2)"/>
<rect x="205.10" y="467.50" width="19.00" height="4.80" rx="1.68" fill="#dadada" filter="url(#bl3)"/>
<ellipse cx="214.6" cy="469.9" rx="9.0" ry="1.0" fill="#4c4c4c" filter="url(#bl2)"/>
<rect x="226.30" y="466.90" width="20.20" height="5.00" rx="1.75" fill="#cccccc" filter="url(#bl3)"/>
<ellipse cx="236.4" cy="469.4" rx="9.6" ry="1.1" fill="#262626" filter="url(#bl2)"/>
<rect x="137.4" y="477.0" width="109.19999999999999" height="14.600000000000023" fill="#e6e6e6" stroke="#cdcdcd" stroke-width="0.8"/>
<rect x="138.20" y="477.60" width="19.60" height="6.00" rx="2.10" fill="#8a8a8a" filter="url(#bl3)"/>
<rect x="137.50" y="481.20" width="21.00" height="10.00" rx="3.50" fill="#3a3a3a" filter="url(#bl3)"/>
<rect x="137.80" y="482.60" width="20.40" height="7.20" rx="2.52" fill="#000" filter="url(#bl)"/>
<rect x="160.80" y="477.60" width="19.60" height="6.00" rx="2.10" fill="#8a8a8a" filter="url(#bl3)"/>
<rect x="160.10" y="481.20" width="21.00" height="10.00" rx="3.50" fill="#3a3a3a" filter="url(#bl3)"/>
<rect x="160.40" y="482.60" width="20.40" height="7.20" rx="2.52" fill="#000" filter="url(#bl)"/>
<rect x="182.80" y="477.60" width="19.60" height="6.00" rx="2.10" fill="#8a8a8a" filter="url(#bl3)"/>
<rect x="182.10" y="481.20" width="21.00" height="10.00" rx="3.50" fill="#3a3a3a" filter="url(#bl3)"/>
<rect x="182.40" y="482.60" width="20.40" height="7.20" rx="2.52" fill="#000" filter="url(#bl)"/>
<rect x="204.80" y="477.60" width="19.60" height="6.00" rx="2.10" fill="#8a8a8a" filter="url(#bl3)"/>
<rect x="204.10" y="481.20" width="21.00" height="10.00" rx="3.50" fill="#3a3a3a" filter="url(#bl3)"/>
<rect x="204.40" y="482.60" width="20.40" height="7.20" rx="2.52" fill="#000" filter="url(#bl)"/>
<rect x="226.60" y="477.60" width="19.60" height="6.00" rx="2.10" fill="#8a8a8a" filter="url(#bl3)"/>
<rect x="225.90" y="481.20" width="21.00" height="10.00" rx="3.50" fill="#3a3a3a" filter="url(#bl3)"/>
<rect x="226.20" y="482.60" width="20.40" height="7.20" rx="2.52" fill="#000" filter="url(#bl)"/>
<text x="46.0" y="385.6" font-size="7.0" text-anchor="middle" font-weight="normal" fill="#111" stroke="#111" stroke-width="0.15">&#945;CD3/28</text>
<text x="185.0" y="385.6" font-size="7.0" text-anchor="middle" font-weight="normal" fill="#111" stroke="#111" stroke-width="0.15">&#945;CD3/28</text>
<line x1="1.2" y1="388.2" x2="88.8" y2="388.2" stroke="#111" stroke-width="1.2"/>
<line x1="138.0" y1="388.0" x2="226.3" y2="388.0" stroke="#111" stroke-width="1.2"/>
<text x="11.200000000000001" y="395.6" font-size="6.8" text-anchor="middle" font-weight="normal" fill="#111" stroke="#111" stroke-width="0.15">5&#180;</text>
<text x="34.3" y="395.6" font-size="6.8" text-anchor="middle" font-weight="normal" fill="#111" stroke="#111" stroke-width="0.15">15&#180;</text>
<text x="54.3" y="395.6" font-size="6.8" text-anchor="middle" font-weight="normal" fill="#111" stroke="#111" stroke-width="0.15">30&#180;</text>
<text x="75.8" y="395.6" font-size="6.8" text-anchor="middle" font-weight="normal" fill="#111" stroke="#111" stroke-width="0.15">120&#180;</text>
<text x="99.7" y="395.6" font-size="6.8" text-anchor="middle" font-weight="normal" fill="#111" stroke="#111" stroke-width="0.15">ctrl.</text>
<text x="148.8" y="395.8" font-size="6.8" text-anchor="middle" font-weight="normal" fill="#111" stroke="#111" stroke-width="0.15">5&#180;</text>
<text x="169.60000000000002" y="395.8" font-size="6.8" text-anchor="middle" font-weight="normal" fill="#111" stroke="#111" stroke-width="0.15">15&#180;</text>
<text x="192.10000000000002" y="395.8" font-size="6.8" text-anchor="middle" font-weight="normal" fill="#111" stroke="#111" stroke-width="0.15">30&#180;</text>
<text x="214.60000000000002" y="395.8" font-size="6.8" text-anchor="middle" font-weight="normal" fill="#111" stroke="#111" stroke-width="0.15">120&#180;</text>
<text x="237.0" y="395.8" font-size="6.8" text-anchor="middle" font-weight="normal" fill="#111" stroke="#111" stroke-width="0.15">ctrl.</text>
<text x="112.2" y="403.0" font-size="6.8" text-anchor="start" font-weight="normal" fill="#111" stroke="#111" stroke-width="0.15">pErk1/2</text>
<text x="112.2" y="408.4" font-size="4.4" text-anchor="start" font-weight="normal" fill="#111" stroke="#111" stroke-width="0.15">(T202/Y204)</text>
<text x="112.2" y="421.2" font-size="6.8" text-anchor="start" font-weight="normal" fill="#111" stroke="#111" stroke-width="0.15">ERK1/2</text>
<text x="112.2" y="432.6" font-size="6.8" text-anchor="start" font-weight="normal" fill="#111" stroke="#111" stroke-width="0.15">pAkt</text>
<text x="112.2" y="441.2" font-size="6.8" text-anchor="start" font-weight="normal" fill="#111" stroke="#111" stroke-width="0.15">(S473)</text>
<text x="112.2" y="456.6" font-size="6.8" text-anchor="start" font-weight="normal" fill="#111" stroke="#111" stroke-width="0.15">Akt1/2</text>
<text x="112.2" y="473.6" font-size="6.8" text-anchor="start" font-weight="normal" fill="#111" stroke="#111" stroke-width="0.15">TCL1</text>
<text x="112.2" y="490.4" font-size="6.8" text-anchor="start" font-weight="normal" fill="#111" stroke="#111" stroke-width="0.15">&#946;-actin</text>
<line x1="2.0" y1="496.6" x2="108.0" y2="496.6" stroke="#707070" stroke-width="1.4"/>
<line x1="139.5" y1="496.8" x2="247.5" y2="496.8" stroke="#707070" stroke-width="1.4"/>
<text x="56.1" y="504.5" font-size="7.25" text-anchor="middle" font-weight="normal" fill="#111" stroke="#111" stroke-width="0.15">TCL1-high T-PLL</text>
<text x="191.5" y="504.2" font-size="7.5" text-anchor="middle" font-weight="normal" fill="#111" stroke="#111" stroke-width="0.15">TCL1-low T-PLL</text>
</svg></body></html>
